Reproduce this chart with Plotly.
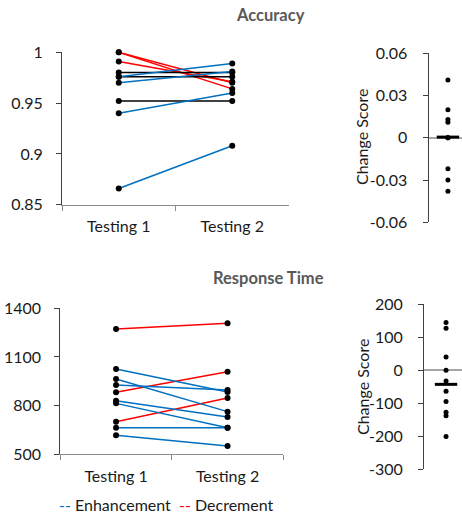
import plotly.graph_objects as go

# ---------------- data ----------------
categories = ["Testing 1", "Testing 2"]

acc_t1 = [1.000, 1.000, 0.991, 0.980, 0.976, 0.976, 0.970, 0.952, 0.940, 0.866]
acc_t2 = [0.970, 0.964, 0.971, 0.980, 0.976, 0.989, 0.981, 0.952, 0.960, 0.908]
acc_group = ["dec", "dec", "dec", "same", "same", "enh", "enh", "same", "enh", "enh"]

rt_t1 = [1272, 882, 701, 1026, 964, 927, 830, 814, 664, 617]
rt_t2 = [1308, 1009, 847, 884, 763, 896, 730, 664, 664, 551]
rt_group = ["dec", "dec", "dec", "enh", "enh", "enh", "enh", "enh", "enh", "enh"]

acc_change = [0.041, 0.020, 0.013, 0.011, 0, 0, 0, -0.022, -0.030, -0.038]
acc_change_mean = 0.0005
rt_change = [145, 127, 40, 0, -33, -64, -95, -128, -138, -201]
rt_change_mean = -43

acc_ticks = [0.85, 0.9, 0.95, 1.0]
acc_ticktext = ["0.85", "0.9", "0.95", "1"]
rt_ticks = [500, 800, 1100, 1400]
rt_ticktext = ["500", "800", "1100", "1400"]
acc_cs_ticks = [-0.06, -0.03, 0, 0.03, 0.06]
acc_cs_ticktext = ["-0.06", "-0.03", "0", "0.03", "0.06"]
rt_cs_ticks = [-300, -200, -100, 0, 100, 200]
rt_cs_ticktext = ["-300", "-200", "-100", "0", "100", "200"]

# ---------------- styling ----------------
W, H = 462, 514
FONT = "Lato"
TXT = "#1a1a1a"
COLORS = {"dec": "#FF0000", "enh": "#0070C0", "same": "#000000"}
AXIS_DARK = "#404040"
AXIS_GRAY = "#8c8c8c"


def px_x(a, b):
    return [a / W, b / W]


def px_y(top, bottom):
    return [1 - bottom / H, 1 - top / H]


fig = go.Figure()


def add_paired(t1, t2, groups, xa, ya):
    for a, b, g in zip(t1, t2, groups):
        fig.add_trace(go.Scatter(
            x=categories, y=[a, b], mode="lines",
            line=dict(color=COLORS[g], width=1.5),
            xaxis=xa, yaxis=ya, showlegend=False, hoverinfo="skip",
            cliponaxis=False))
    for vals, cat in ((t1, categories[0]), (t2, categories[1])):
        fig.add_trace(go.Scatter(
            x=[cat] * len(vals), y=vals, mode="markers",
            marker=dict(color="black", size=6),
            xaxis=xa, yaxis=ya, showlegend=False, cliponaxis=False))


def add_change(vals, mean, xa, ya):
    fig.add_trace(go.Scatter(
        x=[0.58] * len(vals), y=vals, mode="markers",
        marker=dict(color="black", size=5),
        xaxis=xa, yaxis=ya, showlegend=False, cliponaxis=False))
    fig.add_trace(go.Scatter(
        x=[0.58], y=[mean], mode="markers",
        marker=dict(symbol="line-ew", size=16,
                    line=dict(color="black", width=3)),
        xaxis=xa, yaxis=ya, showlegend=False, cliponaxis=False))


add_paired(acc_t1, acc_t2, acc_group, "x", "y")
add_change(acc_change, acc_change_mean, "x2", "y2")
add_paired(rt_t1, rt_t2, rt_group, "x3", "y3")
add_change(rt_change, rt_change_mean, "x4", "y4")

tickfont = dict(family=FONT, size=16, color=TXT)

cat_x = dict(type="category", range=[-0.5, 1.5], showline=True,
             linecolor=AXIS_GRAY, linewidth=1, ticks="outside",
             tickson="boundaries", ticklen=5, tickcolor=AXIS_GRAY,
             showgrid=False, zeroline=False, tickfont=tickfont,
             automargin=False, ticklabelstandoff=7)

left_y = dict(showline=True, linecolor=AXIS_DARK, linewidth=1,
              ticks="outside", ticklen=5, tickcolor=AXIS_DARK,
              showgrid=False, zeroline=False, tickfont=tickfont,
              ticklabelstandoff=10, tickmode="array", automargin=False)

right_x = dict(range=[0, 1], visible=False, showgrid=False, zeroline=False,
               automargin=False)
right_y = dict(showline=True, linecolor=AXIS_DARK, linewidth=1,
               ticks="outside", ticklen=5, tickcolor=AXIS_DARK,
               showgrid=False, zeroline=True, zerolinecolor="#a6a6a6",
               zerolinewidth=1.5, tickfont=tickfont,
               ticklabelstandoff=12, tickmode="array", automargin=False)

fig.update_layout(
    template="none",
    width=W, height=H, autosize=False,
    margin=dict(l=0, r=0, t=0, b=0, pad=0),
    paper_bgcolor="white", plot_bgcolor="white",
    showlegend=False,
    font=dict(family=FONT, size=16, color=TXT),
    xaxis=dict(cat_x, domain=px_x(62, 289), anchor="y"),
    yaxis=dict(left_y, domain=px_y(52.3, 204.7), range=[0.85, 1.0],
               tickvals=acc_ticks, ticktext=acc_ticktext, anchor="x"),
    xaxis2=dict(right_x, domain=px_x(428.5, 462), anchor="y2"),
    yaxis2=dict(right_y, domain=px_y(53.3, 222.3), range=[-0.06, 0.06],
                tickvals=acc_cs_ticks, ticktext=acc_cs_ticktext, anchor="x2"),
    xaxis3=dict(cat_x, domain=px_x(60.3, 283.3), anchor="y3"),
    yaxis3=dict(left_y, domain=px_y(308.3, 454.3), range=[500, 1400],
                tickvals=rt_ticks, ticktext=rt_ticktext, anchor="x3"),
    xaxis4=dict(right_x, domain=px_x(424, 462), anchor="y4"),
    yaxis4=dict(right_y, domain=px_y(304.3, 469), range=[-300, 200],
                tickvals=rt_cs_ticks, ticktext=rt_cs_ticktext, anchor="x4"),
)

title_font = dict(family=FONT, size=16.5, color="#595959")
fig.add_annotation(text="<b>Accuracy</b>", x=270 / W, y=1 - 15 / H,
                   xref="paper", yref="paper", showarrow=False,
                   xanchor="center", yanchor="middle", font=title_font)
fig.add_annotation(text="<b>Response Time</b>", x=268 / W, y=1 - 278 / H,
                   xref="paper", yref="paper", showarrow=False,
                   xanchor="center", yanchor="middle", font=title_font)
for yc in (137, 387):
    fig.add_annotation(text="Change Score", x=362 / W, y=1 - yc / H,
                       xref="paper", yref="paper", showarrow=False,
                       textangle=-90, xanchor="center", yanchor="middle",
                       font=dict(family=FONT, size=16, color=TXT))

fig.add_annotation(
    text=("<span style='color:#0070C0'>--</span> Enhancement  "
          "<span style='color:#FF0000'>--</span> Decrement"),
    x=57 / W, y=1 - 504 / H, xref="paper", yref="paper", showarrow=False,
    xanchor="left", yanchor="middle",
    font=dict(family=FONT, size=16, color=TXT))

fig.write_html(
    "out.html",
    config={"displayModeBar": False},
    post_script="document.body.style.margin='0';"
                "document.body.style.overflow='hidden';",
)
